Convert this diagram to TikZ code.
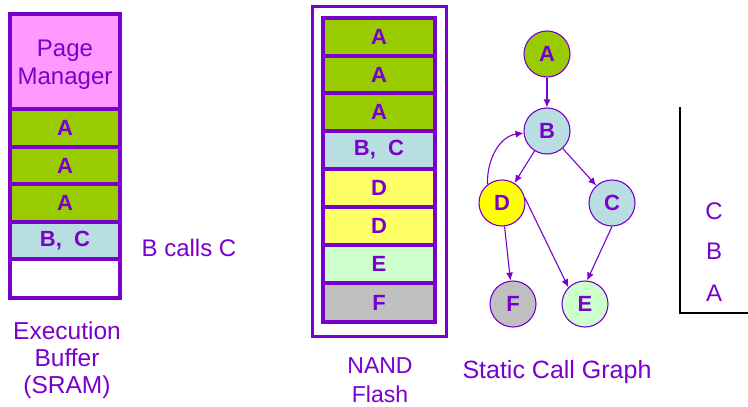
\documentclass[tikz,border=0pt]{standalone}
\usepackage{fontspec}
\setmainfont{Liberation Sans}
\usetikzlibrary{arrows.meta}
\definecolor{vio}{RGB}{122,0,204}
\definecolor{cgreen}{RGB}{153,204,0}
\definecolor{cpink}{RGB}{255,153,255}
\definecolor{cblue}{RGB}{185,222,226}
\definecolor{cyel}{RGB}{255,255,102}
\definecolor{cyelnode}{RGB}{255,255,0}
\definecolor{cmint}{RGB}{204,255,204}
\definecolor{cgray}{RGB}{192,192,192}
\tikzset{
  txt/.style={text=vio,font=\fontsize{24}{27}\selectfont,align=center,inner sep=0pt},
  cell/.style={draw=vio,line width=4pt,minimum width=#1,inner sep=0pt,outer sep=0pt,
    text=vio,font=\fontsize{22}{26}\selectfont\bfseries,align=center},
  cell/.default=110pt,
  fcell/.style={draw=vio,line width=4pt,minimum width=112pt,minimum height=38pt,inner sep=0pt,
    outer sep=0pt,text=vio,font=\fontsize{22}{26}\selectfont\bfseries},
  gnode/.style={circle,draw=vio,line width=1.1pt,minimum size=46pt,inner sep=0pt,
    text=vio,font=\fontsize{22}{26}\selectfont\bfseries},
  edge/.style={draw=vio,line width=1.1pt,-{Latex[length=8pt,width=7pt]}},
}
\begin{document}
\begin{tikzpicture}[x=1pt,y=-1pt]
\useasboundingbox (0,0) rectangle (748,407);

% execution buffer
\node[cell,fill=cpink,minimum height=95pt] (pm) at (65,61.5) {};
\node[txt,font=\fontsize{24}{28}\selectfont] (pmtext) at (65,65) {Page\\Manager};
\node[cell,fill=cgreen,minimum height=38pt] (ea1) at (65,128) {A};
\node[cell,fill=cgreen,minimum height=37pt] (ea2) at (65,165.5) {A};
\node[cell,fill=cgreen,minimum height=38pt] (ea3) at (65,203) {A};
\node[cell,fill=cblue,minimum height=37pt] (ebc) at (65,240.5) {B,\ \ C};
\node[cell,fill=white,minimum height=39pt] (eempty) at (65,278.5) {};
\node[txt] (bcalls) at (189,248) {B calls C};
\node[txt,font=\fontsize{24.5}{27}\selectfont] (exlabel) at (67,360) {Execution\\Buffer\\(SRAM)};

% NAND flash
\node[draw=vio,line width=3pt,minimum width=134pt,minimum height=330pt,inner sep=0pt] (nandframe) at (379,171) {};
\node[fcell,fill=cgreen] (f1) at (379,36.5) {A};
\node[fcell,fill=cgreen] (f2) at (379,74.5) {A};
\node[fcell,fill=cgreen] (f3) at (379,112) {A};
\node[fcell,fill=cblue] (f4) at (379,150) {B,\ \ C};
\node[fcell,fill=cyel] (f5) at (379,188) {D};
\node[fcell,fill=cyel] (f6) at (379,226) {D};
\node[fcell,fill=cmint] (f7) at (379,264) {E};
\node[fcell,fill=cgray,minimum height=39pt] (f8) at (379,302.5) {F};
\node[txt,font=\fontsize{23}{29}\selectfont] (nandlabel) at (380,380) {NAND\\Flash};

% static call graph
\node[gnode,fill=cgreen] (A) at (547,54) {A};
\node[gnode,fill=cblue] (B) at (547,131) {B};
\node[gnode,fill=cyelnode] (D) at (502,203) {D};
\node[gnode,fill=cblue] (C) at (612,203) {C};
\node[gnode,fill=cgray] (F) at (513,304) {F};
\node[gnode,fill=cmint] (E) at (585,304) {E};
\draw[edge] (A) -- (B);
\draw[edge] (B) -- (D);
\draw[edge] (B) -- (C);
\draw[edge] (D.128) to[out=92,in=188] (B.185);
\draw[edge] (D) -- (F);
\draw[edge] (D.12) -- (E.135);
\draw[edge] (C.south) -- (E.85);
\node[txt,font=\fontsize{25}{29}\selectfont] (sglabel) at (557,372) {Static Call Graph};

% call stack
\coordinate (stop) at (680,107);
\coordinate (scorner) at (680,313);
\coordinate (send) at (748,313);
\draw[line width=1.1pt,black] (stop) -- (scorner) -- (send);
\node[txt] (sC) at (714,211) {C};
\node[txt] (sB) at (714,251) {B};
\node[txt] (sA) at (714,293) {A};
\end{tikzpicture}
\end{document}
